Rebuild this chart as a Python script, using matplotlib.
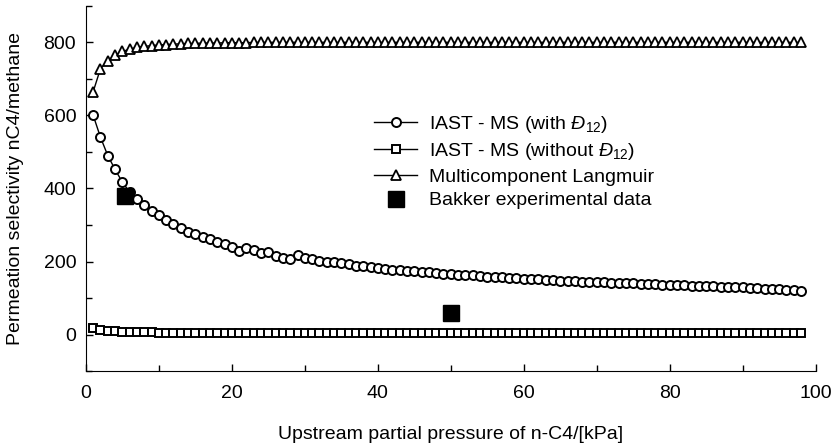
import matplotlib
matplotlib.use("Agg")
import matplotlib.pyplot as plt
import numpy as np

plt.rcParams['font.family'] = ['Liberation Sans', 'DejaVu Sans']
plt.rcParams['mathtext.fontset'] = 'custom'
plt.rcParams['mathtext.rm'] = 'Liberation Sans'
plt.rcParams['mathtext.it'] = 'Liberation Sans:italic'

# upstream partial pressure of n-C4 [kPa]
pressure = np.arange(1, 99)

# IAST - MS (with D12)
sel_with_d12 = [600, 540, 490, 452, 417, 390, 371, 354, 338, 326,
                314, 303, 292, 282, 275, 267, 261, 254, 248, 241,
                228, 238, 231, 222, 226, 215, 211, 208, 217, 210,
                206, 202, 199, 200, 195, 192, 189, 188, 184, 182,
                180, 178, 176, 175, 173, 171, 170, 168, 167, 165,
                164, 163, 162, 160, 159, 158, 157, 155, 154, 153,
                152, 151, 150, 149, 148, 147, 146, 145, 145, 144,
                143, 142, 141, 141, 140, 139, 138, 138, 137, 136,
                135, 135, 134, 133, 132, 132, 131, 130, 129, 129,
                128, 127, 126, 125, 124, 123, 122, 120]

# IAST - MS (without D12)
sel_without_d12 = [17, 13, 10, 9, 8, 7, 7, 6, 6, 5,
                   5, 5, 5, 5, 4, 4, 4, 4, 4, 4,
                   4, 4, 4, 4, 4, 4, 4, 4, 4, 4,
                   4, 4, 4, 4, 4, 4, 4, 4, 4, 4,
                   4, 4, 4, 4, 4, 4, 4, 4, 4, 4,
                   4, 4, 4, 4, 4, 4, 4, 4, 4, 4,
                   4, 4, 4, 4, 4, 4, 4, 4, 4, 4,
                   4, 4, 4, 4, 4, 4, 4, 4, 4, 4,
                   4, 4, 4, 4, 4, 4, 4, 4, 4, 4,
                   4, 4, 4, 4, 4, 4, 4, 4]

# Multicomponent Langmuir
sel_langmuir = [665, 728, 750, 765, 775, 781, 786, 789, 791, 793,
                794, 795, 796, 797, 797, 798, 798, 798, 799, 799,
                799, 799, 800, 800, 800, 800, 800, 800, 800, 800,
                800, 800, 800, 800, 800, 800, 800, 800, 800, 800,
                800, 800, 800, 800, 800, 800, 800, 800, 800, 800,
                800, 800, 800, 800, 800, 800, 800, 800, 800, 800,
                800, 800, 800, 800, 800, 800, 800, 800, 800, 800,
                800, 800, 800, 800, 800, 800, 800, 800, 800, 800,
                800, 800, 800, 800, 800, 800, 800, 800, 800, 800,
                800, 800, 800, 800, 800, 800, 800, 800]

# Bakker experimental data
bakker_p = [5.3, 50]
bakker_sel = [378, 58]

fig = plt.figure(figsize=(8.34, 4.45), dpi=100)
ax = fig.add_axes([0.103, 0.166, 0.875, 0.821])

ax.plot(pressure, sel_with_d12, color='k', lw=1.0, marker='o', ms=6.5,
        mfc='white', mec='k', mew=1.4, label=r'IAST - MS (with $\mathit{Đ}_{12}$)')
ax.plot(pressure, sel_without_d12, color='k', lw=1.0, marker='s', ms=5.5,
        mfc='white', mec='k', mew=1.4, label=r'IAST - MS (without $\mathit{Đ}_{12}$)')
ax.plot(pressure, sel_langmuir, color='k', lw=1.0, marker='^', ms=7.5,
        mfc='white', mec='k', mew=1.3, label='Multicomponent Langmuir')
ax.plot(bakker_p, bakker_sel, ls='none', marker='s', ms=12, color='k',
        label='Bakker experimental data')

ax.set_xlim(0, 100)
ax.set_ylim(-100, 900)
ax.set_xticks([0, 20, 40, 60, 80, 100])
ax.set_xticks(np.arange(10, 100, 10), minor=True)
ax.set_yticks([0, 200, 400, 600, 800])
ax.set_yticks([-100, 100, 300, 500, 700, 900], minor=True)
ax.tick_params(direction='in', which='major', length=5, width=1, labelsize=14)
ax.tick_params(direction='in', which='minor', length=4, width=1)
ax.tick_params(axis='x', which='major', pad=10)
ax.tick_params(axis='y', which='major', pad=7)
ax.spines['top'].set_visible(False)
ax.spines['right'].set_visible(False)

ax.set_xlabel('Upstream partial pressure of n-C4/[kPa]', fontsize=14, labelpad=17)
ax.set_ylabel('Permeation selectivity nC4/methane', fontsize=14, labelpad=14)

ax.legend(loc='upper left', bbox_to_anchor=(0.395, 0.705), frameon=False,
          fontsize=14, handlelength=2.2, handletextpad=0.6, labelspacing=0.32,
          borderaxespad=0, borderpad=0)

fig.savefig('out.png', dpi=100)
